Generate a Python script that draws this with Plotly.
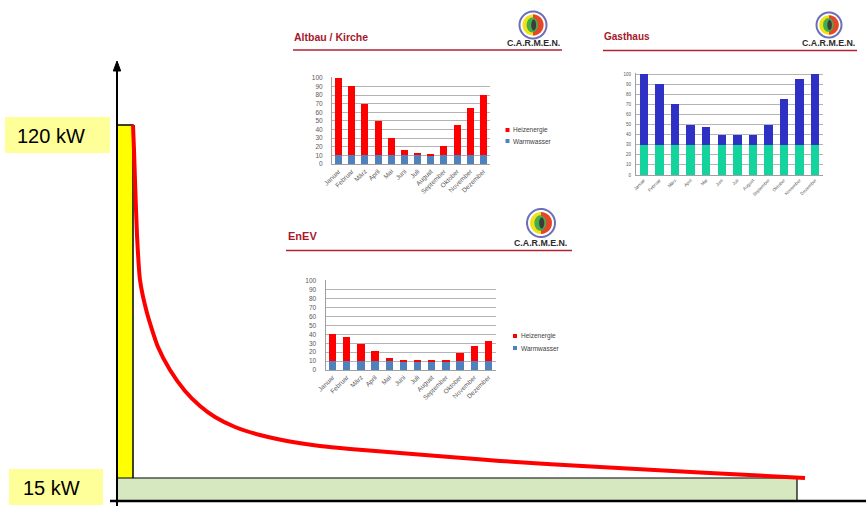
import numpy as np
import plotly.graph_objects as go

# ---------------- data ----------------
months = ["Januar", "Februar", "März", "April", "Mai", "Juni", "Juli",
          "August", "September", "Oktober", "November", "Dezember"]

altbau_warmwasser = [10, 10, 10, 10, 10, 10, 10, 10, 10, 10, 10, 10]
altbau_heizenergie = [90, 80, 60, 40, 20, 6, 3, 1, 11, 35, 55, 70]

gasthaus_base = [30, 30, 30, 30, 30, 30, 30, 30, 30, 30, 30, 30]
gasthaus_heat = [70, 60, 40, 20, 18, 10, 10, 10, 20, 45, 65, 70]

enev_warmwasser = [10, 10, 10, 10, 10, 10, 10, 10, 10, 10, 10, 10]
enev_heizenergie = [30, 27, 19, 11, 3, 1, 1, 1, 1, 9, 17, 23]

# schematic load-duration curve (schematic units, origin at axis corner)
curve_x = [16, 17, 18, 20, 23, 30, 41, 53, 68, 83, 98, 118, 143, 170, 203, 233,
           283, 333, 383, 483, 583, 688]
curve_y = [376, 351, 321, 266, 221, 188, 154, 131, 110, 95, 84, 74, 66, 60, 55, 52,
           48, 44, 40, 34, 28.5, 23]
peak_width, peak_height = 16, 376
base_width, base_height = 680, 23
peak_label = "120 kW"
base_label = "15 kW"

W, H = 866, 506
OX, OY = 117, 501  # pixel position of main origin


def X(px):
    return px - OX


def Y(py):
    return OY - py


FONT = "Liberation Sans, Arial, sans-serif"
RED_RED = "#ff0000"
BLUE_W = "#4f81bd"
TITLE_RED = "#a8182c"
GRID = "#b4b4b4"
TICK = "#595959"

fig = go.Figure()

# ---- main schematic chart ----
fig.add_trace(go.Scatter(x=curve_x, y=curve_y, mode="lines",
                         line=dict(color=RED_RED, width=4, shape="spline", smoothing=0.6),
                         xaxis="x", yaxis="y", hoverinfo="skip", showlegend=False))

# ---- inset 1: Altbau / Kirche ----
fig.add_trace(go.Bar(x=months, y=altbau_warmwasser, name="Warmwasser",
                     marker=dict(color=BLUE_W, line=dict(width=0)), width=0.54,
                     xaxis="x2", yaxis="y2", showlegend=False))
fig.add_trace(go.Bar(x=months, y=altbau_heizenergie, name="Heizenergie",
                     marker=dict(color=RED_RED, line=dict(width=0)), width=0.54,
                     xaxis="x2", yaxis="y2", showlegend=False))
# ---- inset 2: Gasthaus ----
fig.add_trace(go.Bar(x=months, y=gasthaus_base, marker=dict(color="#14d39c", line=dict(width=0)),
                     width=0.54, xaxis="x3", yaxis="y3", showlegend=False))
fig.add_trace(go.Bar(x=months, y=gasthaus_heat, marker=dict(color="#2e31c4", line=dict(width=0)),
                     width=0.54, xaxis="x3", yaxis="y3", showlegend=False))
# ---- inset 3: EnEV ----
fig.add_trace(go.Bar(x=months, y=enev_warmwasser, name="Warmwasser",
                     marker=dict(color=BLUE_W, line=dict(width=0)), width=0.52,
                     xaxis="x4", yaxis="y4", showlegend=False))
fig.add_trace(go.Bar(x=months, y=enev_heizenergie, name="Heizenergie",
                     marker=dict(color=RED_RED, line=dict(width=0)), width=0.52,
                     xaxis="x4", yaxis="y4", showlegend=False))

shapes = []
annotations = []

# yellow peak bar and green base rectangle
shapes.append(dict(type="rect", xref="x", yref="y", x0=0, x1=peak_width, y0=0, y1=peak_height,
                   fillcolor="#ffff00", line=dict(color="black", width=1.5), layer="below"))
shapes.append(dict(type="rect", xref="x", yref="y", x0=0, x1=base_width, y0=0, y1=base_height,
                   fillcolor="#d5e8c0", line=dict(color="black", width=1.2), layer="below"))
# axes
shapes.append(dict(type="line", xref="x", yref="y", x0=X(110), x1=X(866), y0=0, y1=0,
                   line=dict(color="black", width=2.5)))
shapes.append(dict(type="line", xref="x", yref="y", x0=0, x1=0, y0=Y(506), y1=Y(68),
                   line=dict(color="black", width=2)))
shapes.append(dict(type="path", xref="x", yref="y",
                   path=f"M {X(117)} {Y(61)} L {X(113.3)} {Y(71)} L {X(120.7)} {Y(71)} Z",
                   fillcolor="black", line=dict(color="black", width=1)))

# label boxes
shapes.append(dict(type="rect", xref="x", yref="y", x0=X(5), x1=X(110), y0=Y(153), y1=Y(117),
                   fillcolor="#ffff99", line=dict(width=0), layer="below"))
shapes.append(dict(type="rect", xref="x", yref="y", x0=X(9), x1=X(103), y0=Y(505), y1=Y(469),
                   fillcolor="#ffff99", line=dict(width=0), layer="below"))
annotations.append(dict(xref="x", yref="y", x=X(15), y=Y(135.5), text=peak_label, showarrow=False,
                        xanchor="left", yanchor="middle", font=dict(family=FONT, size=20, color="black")))
annotations.append(dict(xref="x", yref="y", x=X(21), y=Y(487.5), text=base_label, showarrow=False,
                        xanchor="left", yanchor="middle", font=dict(family=FONT, size=20, color="black")))


def logo(cx, cy, r):
    t = np.linspace(0, 2 * np.pi, 40)

    def poly(xs, ys):
        return "M " + " L ".join(f"{X(a):.2f} {Y(b):.2f}" for a, b in zip(xs, ys)) + " Z"

    out = []
    out.append(dict(type="path", xref="x", yref="y", path=poly(cx + r * np.cos(t), cy + r * np.sin(t)),
                    fillcolor="white", line=dict(color="#6a6fb8", width=2)))
    r2 = r * 0.78
    out.append(dict(type="path", xref="x", yref="y", path=poly(cx + r2 * np.cos(t), cy + r2 * np.sin(t)),
                    fillcolor="#eee21a", line=dict(width=0)))
    th = np.linspace(-np.pi / 2, np.pi / 2, 20)
    out.append(dict(type="path", xref="x", yref="y", path=poly(cx + r2 * np.cos(th), cy + r2 * np.sin(th)),
                    fillcolor="#e8432c", line=dict(width=0)))
    out.append(dict(type="path", xref="x", yref="y",
                    path=poly(cx - 0.05 * r + 0.42 * r * np.cos(t), cy + 0.55 * r * np.sin(t)),
                    fillcolor="#46ad4a", line=dict(width=0)))
    out.append(dict(type="path", xref="x", yref="y",
                    path=poly(cx + 0.05 * r + 0.18 * r * np.cos(t), cy + 0.4 * r * np.sin(t)),
                    fillcolor="#3c3c3c", line=dict(width=0)))
    return out


def slide_header(title, tx, ty, lx0, lx1, ly, logo_c, logo_r, carmen_x, carmen_y, tsize):
    annotations.append(dict(xref="x", yref="y", x=X(tx), y=Y(ty), text=f"<b>{title}</b>", showarrow=False,
                            xanchor="left", yanchor="middle",
                            font=dict(family=FONT, size=tsize, color=TITLE_RED)))
    shapes.append(dict(type="line", xref="x", yref="y", x0=X(lx0), x1=X(lx1), y0=Y(ly), y1=Y(ly),
                       line=dict(color="#b22234", width=1.5)))
    shapes.extend(logo(logo_c[0], logo_c[1], logo_r))
    annotations.append(dict(xref="x", yref="y", x=X(carmen_x), y=Y(carmen_y), text="<b>C.A.R.M.E.N.</b>",
                            showarrow=False, xanchor="center", yanchor="middle",
                            font=dict(family=FONT, size=8.8, color="#2b2b2b")))


slide_header("Altbau / Kirche", 292, 36.5, 293, 562, 50, (533, 25), 13.5, 533, 43, 10.5)
slide_header("Gasthaus", 602, 36.5, 603, 857, 50.5, (829, 25), 12.5, 828.5, 43, 10)
slide_header("EnEV", 286, 236, 286, 572, 250.5, (541, 223), 14, 540.5, 243, 11)


def legend_items(x_sq, y_heiz, y_warm):
    for yy, col, txt in ((y_heiz, RED_RED, "Heizenergie"), (y_warm, BLUE_W, "Warmwasser")):
        shapes.append(dict(type="rect", xref="x", yref="y", x0=X(x_sq), x1=X(x_sq + 4),
                           y0=Y(yy + 2), y1=Y(yy - 2), fillcolor=col, line=dict(width=0)))
        annotations.append(dict(xref="x", yref="y", x=X(x_sq + 5.5), y=Y(yy), text=txt, showarrow=False,
                                xanchor="left", yanchor="middle",
                                font=dict(family=FONT, size=6.5, color="#404040")))


legend_items(505.5, 130, 141)
legend_items(513, 336, 348)


def px_dom_x(a, b):
    return [a / W, b / W]


def px_dom_y(top, bottom):
    return [1 - bottom / H, 1 - top / H]


def inset_axes(xd, yd, fsize, standoff):
    xa = dict(domain=xd, type="category", tickangle=-45, showgrid=False, showline=True,
              linecolor="#a0a0a0", ticks="", tickfont=dict(family=FONT, size=fsize, color=TICK),
              fixedrange=True, automargin=False)
    ya = dict(domain=yd, range=[0, 101], dtick=10, showgrid=True, gridcolor=GRID, gridwidth=1,
              showline=True, linecolor="#a0a0a0", zeroline=False, ticks="",
              tickfont=dict(family=FONT, size=fsize, color=TICK), fixedrange=True,
              automargin=False, ticklabelstandoff=standoff)
    return xa, ya


xa2, ya2 = inset_axes(px_dom_x(332, 490), px_dom_y(77, 164), 6.5, 7)
xa3, ya3 = inset_axes(px_dom_x(636, 823), px_dom_y(73, 175), 4.5, 3)
xa4, ya4 = inset_axes(px_dom_x(325.5, 495.5), px_dom_y(280, 370), 6.5, 7)
xa2["anchor"], ya2["anchor"] = "y2", "x2"
xa3["anchor"], ya3["anchor"] = "y3", "x3"
xa4["anchor"], ya4["anchor"] = "y4", "x4"

fig.update_layout(
    width=W, height=H, autosize=False,
    margin=dict(l=0, r=0, t=0, b=0, pad=0, autoexpand=False),
    paper_bgcolor="white", plot_bgcolor="rgba(0,0,0,0)",
    barmode="stack", showlegend=False,
    xaxis=dict(domain=[0, 1], range=[-OX, W - OX], visible=False, fixedrange=True, automargin=False),
    yaxis=dict(domain=[0, 1], range=[OY - H, OY], visible=False, fixedrange=True, automargin=False),
    xaxis2=xa2, yaxis2=ya2, xaxis3=xa3, yaxis3=ya3, xaxis4=xa4, yaxis4=ya4,
    shapes=shapes, annotations=annotations,
    font=dict(family=FONT),
)

fig.write_html("out.html")
